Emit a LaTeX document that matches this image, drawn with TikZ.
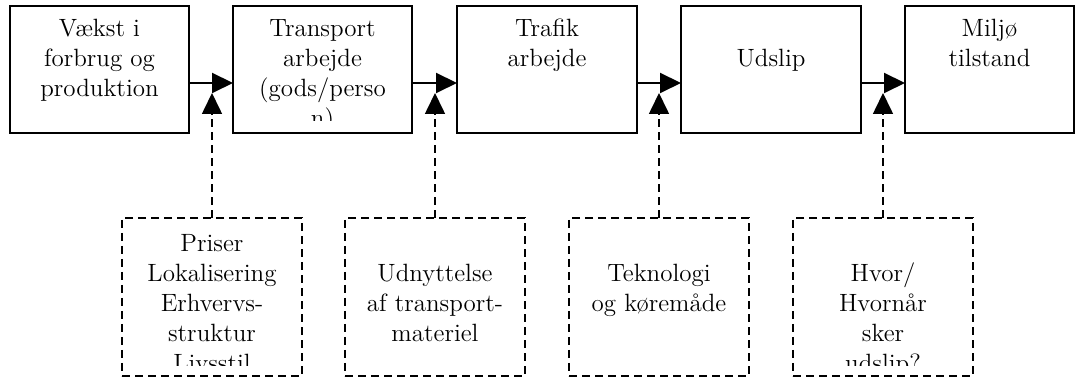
\documentclass[tikz,border=0pt]{standalone}
\usetikzlibrary{arrows.meta}
\newcommand{\stacked}[1]{\begin{tabular}[t]{@{}c@{}}#1\end{tabular}}
\begin{document}
\begin{tikzpicture}[x=0.5pt,y=-0.5pt,
  every node/.style={inner sep=0pt, outer sep=0pt},
  stage/.style={draw, line width=1pt, minimum height=63.5pt},
  factor/.style={draw, line width=0.8pt, dash pattern=on 4pt off 2.5pt,
                 minimum width=90pt, minimum height=79pt},
  boxtext/.style={anchor=base, font=\fontsize{12.5}{15}\selectfont},
  flow/.style={line width=1pt, -{Triangle[length=10.5pt,width=10pt]}},
  influence/.style={line width=0.8pt, dash pattern=on 4pt off 2.5pt,
                    -{Triangle[length=10.5pt,width=10pt]}}
]
\useasboundingbox (0,0) rectangle (1077,378);

% chain of stages
\node[stage, minimum width=89.5pt] (b1) at (99.5,69.5) {};
\node[stage, minimum width=89.5pt] (b2) at (322.5,69.5) {};
\node[stage, minimum width=90pt]   (b3) at (547,69.5) {};
\node[stage, minimum width=90pt]   (b4) at (771,69.5) {};
\node[stage, minimum width=84.5pt] (b5) at (989.5,69.5) {};

% influencing factors
\node[factor] (f1) at (212,297) {};
\node[factor] (f2) at (435,297) {};
\node[factor] (f3) at (659,297) {};
\node[factor] (f4) at (883,297) {};

% stage texts, clipped to the inner margin of each box
\begin{scope}
  \clip ([shift={(5,5)}]b1.north west) rectangle ([shift={(-5,-12)}]b1.south east);
  \node[boxtext] (t1) at (99.5,37) {\stacked{Vækst i\\forbrug og\\produktion}};
\end{scope}
\begin{scope}
  \clip ([shift={(5,5)}]b2.north west) rectangle ([shift={(-5,-12)}]b2.south east);
  \node[boxtext] (t2) at (322.5,37) {\stacked{Transport\\arbejde\\(gods/perso\\n)}};
\end{scope}
\begin{scope}
  \clip ([shift={(5,5)}]b3.north west) rectangle ([shift={(-5,-12)}]b3.south east);
  \node[boxtext] (t3) at (547,37) {\stacked{Trafik\\arbejde}};
\end{scope}
\begin{scope}
  \clip ([shift={(5,5)}]b4.north west) rectangle ([shift={(-5,-12)}]b4.south east);
  \node[boxtext] (t4) at (771,67) {\stacked{Udslip}};
\end{scope}
\begin{scope}
  \clip ([shift={(5,5)}]b5.north west) rectangle ([shift={(-5,-12)}]b5.south east);
  \node[boxtext] (t5) at (989.5,37) {\stacked{Miljø\\tilstand}};
\end{scope}

% factor texts
\begin{scope}
  \clip ([shift={(5,4)}]f1.north west) rectangle ([shift={(-5,-10)}]f1.south east);
  \node[boxtext] (t6) at (212,252) {\stacked{Priser\\Lokalisering\\Erhvervs-\\struktur\\Livsstil}};
\end{scope}
\begin{scope}
  \clip ([shift={(5,4)}]f2.north west) rectangle ([shift={(-5,-10)}]f2.south east);
  \node[boxtext] (t7) at (435,282) {\stacked{Udnyttelse\\af transport-\\materiel}};
\end{scope}
\begin{scope}
  \clip ([shift={(5,4)}]f3.north west) rectangle ([shift={(-5,-10)}]f3.south east);
  \node[boxtext] (t8) at (659,282) {\stacked{Teknologi\\og køremåde}};
\end{scope}
\begin{scope}
  \clip ([shift={(5,4)}]f4.north west) rectangle ([shift={(-5,-10)}]f4.south east);
  \node[boxtext] (t9) at (883,282) {\stacked{Hvor/\\Hvornår\\sker\\udslip?}};
\end{scope}

% connectors
\coordinate (flowlevel) at (0,83);
\coordinate (tiplevel) at (0,93);
\foreach \a/\b in {b1/b2,b2/b3,b3/b4,b4/b5}
  \draw[flow] (\a.east |- flowlevel) -- (\b.west |- flowlevel);
\foreach \f in {f1,f2,f3,f4}
  \draw[influence] (\f.north) -- (\f.north |- tiplevel);
\end{tikzpicture}
\end{document}
